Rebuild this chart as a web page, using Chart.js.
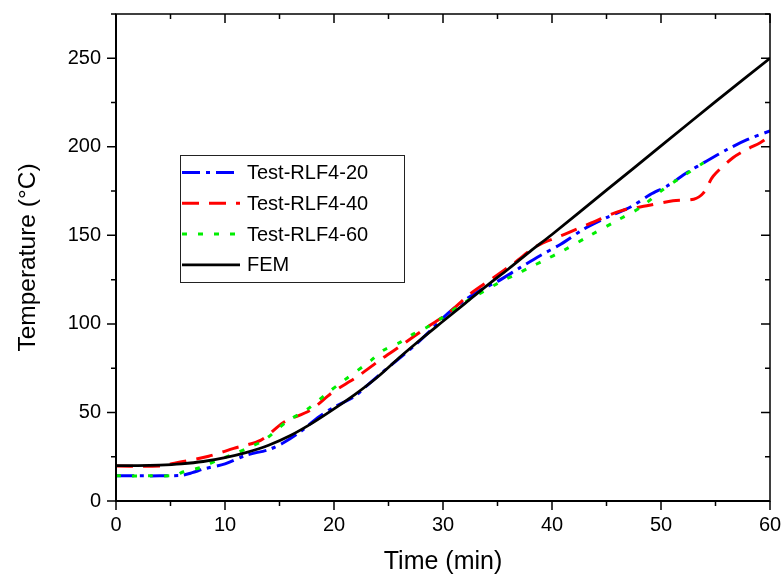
<!DOCTYPE html>
<html>
<head>
<meta charset="utf-8">
<script src="https://cdn.jsdelivr.net/npm/chart.js@4.4.0/dist/chart.umd.min.js"></script>
<style>
html, body { margin: 0; padding: 0; background: #fff; }
#wrap { width: 784px; height: 578px; }
</style>
</head>
<body>
<div id="wrap"><canvas id="chart" width="784" height="578"></canvas></div>
<script>
// time (min) and temperature (°C)
const time20 = [0, 2, 4, 6, 7, 8, 10, 12, 14, 15.4, 17, 18.5, 20, 21.8, 23, 24.3, 25.8, 27.6, 28.8, 30.4, 31.9, 33.4, 35, 37, 38.9, 40.8, 42.9, 45, 47.2, 49, 50.6, 52.4, 54.2, 56.1, 57.9, 60];
const temp20 = [14.2, 14.2, 14.2, 14.5, 16, 18, 21, 26, 29, 33, 39.5, 47, 53, 58.7, 65, 72, 79.5, 89, 96, 105.7, 113, 119, 124, 131.5, 138.5, 145, 153.5, 160, 166, 173, 178, 185.5, 192, 198.6, 204, 209];

const time40 = [0, 4, 5.9, 8.5, 10.8, 13.3, 15.4, 17.8, 19.9, 22.1, 24.3, 26.4, 28.5, 30.4, 32.5, 34.6, 36.6, 38.6, 41.2, 43.6, 46.3, 48.7, 51.1, 53, 53.9, 54.8, 56.6, 57.9, 59.1, 60];
const temp40 = [19.7, 19.8, 22, 25.3, 29.7, 34.4, 44.5, 51.2, 61.5, 70, 80, 88.8, 98, 105.7, 117, 126, 134.7, 144, 150.7, 157, 163.8, 166.7, 169.5, 170.4, 174, 183.5, 193.8, 198.6, 202.3, 206];

const time60 = [0, 3, 5.4, 6.2, 7.8, 9.3, 10.8, 12, 13.6, 15.7, 17.5, 19.3, 20.9, 23.4, 24.5, 26.1, 27.3, 28.5, 30, 31.3, 32.5, 35.2, 36.5, 38, 39.2, 41, 43.5, 46, 48.1, 50, 51.8, 53.9];
const temp60 = [14.2, 14.2, 14.5, 16.5, 19, 23, 26.5, 29.7, 34.4, 45, 51.5, 60.5, 68, 79.4, 85, 89.7, 94.4, 98, 103.8, 109.4, 114, 123.5, 127.4, 132, 135.7, 141.3, 150, 158.5, 165.7, 175, 182.6, 191];

const timeFem = [0, 2, 4, 6, 8, 10, 12, 14, 16, 18, 20, 22, 24, 26, 28, 30, 32, 34, 36, 38, 40, 45, 50, 55, 60];
const tempFem = [20, 20, 20.3, 21, 22.3, 24.5, 27.5, 31.5, 37, 44, 52, 60.5, 70, 81, 91.5, 101.5, 111.5, 121.5, 131, 141, 150.5, 175.5, 200.5, 225.5, 250];

const xTicks = [0, 10, 20, 30, 40, 50, 60];
const yTicks = [0, 50, 100, 150, 200, 250];

const FONT = 'Arial, "Liberation Sans", sans-serif';

const series = [
    { label: "Test-RLF4-20", t: time20, v: temp20, color: "#0000ff", dash: [18, 6, 4, 6], width: 3, order: 3 },
    { label: "Test-RLF4-40", t: time40, v: temp40, color: "#ff0000", dash: [17, 10], width: 3, order: 2 },
    { label: "Test-RLF4-60", t: time60, v: temp60, color: "#00ee00", dash: [5, 11], width: 3, order: 1 },
    { label: "FEM", t: timeFem, v: tempFem, color: "#000000", dash: [], width: 2.8, order: 0 },
];

// box, ticks on all four sides (major + minor)
const framePlugin = {
    id: "frame",
    afterDraw(chart) {
        const ctx = chart.ctx;
        const a = chart.chartArea;
        const xs = chart.scales.x;
        const ys = chart.scales.y;
        ctx.save();
        ctx.strokeStyle = "#000";
        ctx.lineWidth = 1.5;
        ctx.strokeRect(a.left, a.top, a.right - a.left, a.bottom - a.top);
        ctx.lineWidth = 2;
        ctx.beginPath();
        ctx.moveTo(a.left, a.top);
        ctx.lineTo(a.left, a.bottom);
        ctx.lineTo(a.right, a.bottom);
        ctx.stroke();

        ctx.lineWidth = 1.5;
        ctx.beginPath();
        for (let v = 0; v <= 60; v += 5) {
            const px = xs.getPixelForValue(v);
            const len = v % 10 === 0 ? 9 : 5;
            ctx.moveTo(px, a.bottom);
            ctx.lineTo(px, a.bottom + len);
            ctx.moveTo(px, a.top);
            ctx.lineTo(px, a.top + len);
        }
        for (let v = 0; v <= 275; v += 25) {
            const py = ys.getPixelForValue(v);
            const len = v % 50 === 0 ? 9 : 5;
            ctx.moveTo(a.left, py);
            ctx.lineTo(a.left - len, py);
            ctx.moveTo(a.right, py);
            ctx.lineTo(a.right - len, py);
        }
        ctx.stroke();
        ctx.restore();
    },
};

// boxed legend inside the plot, upper left
const legendPlugin = {
    id: "boxLegend",
    afterDraw(chart) {
        const ctx = chart.ctx;
        const box = { x: 180, y: 155, w: 224, h: 127 };
        ctx.save();
        ctx.fillStyle = "#fff";
        ctx.fillRect(box.x, box.y, box.w, box.h);
        ctx.strokeStyle = "#222";
        ctx.lineWidth = 1;
        ctx.strokeRect(box.x + 0.5, box.y + 0.5, box.w, box.h);
        ctx.font = "20px " + FONT;
        ctx.textBaseline = "middle";
        chart.data.datasets.forEach((ds, i) => {
            const y = 172.5 + i * 30.8;
            ctx.strokeStyle = ds.borderColor;
            ctx.lineWidth = ds.borderWidth;
            ctx.setLineDash(ds.borderDash);
            ctx.beginPath();
            ctx.moveTo(182, y);
            ctx.lineTo(240, y);
            ctx.stroke();
            ctx.setLineDash([]);
            ctx.fillStyle = "#000";
            ctx.fillText(ds.label, 247, y + 1);
        });
        ctx.restore();
    },
};

const datasets = series.map((s) => ({
    label: s.label,
    data: s.t.map((t, i) => ({ x: t, y: s.v[i] })),
    borderColor: s.color,
    borderWidth: s.width,
    borderDash: s.dash,
    pointRadius: 0,
    fill: false,
    tension: 0.3,
    order: s.order,
}));

new Chart(document.getElementById("chart"), {
    type: "line",
    data: { datasets: datasets },
    options: {
        responsive: false,
        animation: false,
        layout: { padding: { top: 14, right: 14, left: 0, bottom: 0 } },
        plugins: {
            legend: { display: false },
            tooltip: { enabled: false },
        },
        scales: {
            x: {
                type: "linear",
                min: 0,
                max: 60,
                afterBuildTicks: (scale) => {
                    scale.ticks = xTicks.map((v) => ({ value: v }));
                },
                afterFit: (scale) => {
                    scale.height = 77;
                    scale.paddingLeft = 0;
                    scale.paddingRight = 0;
                },
                grid: { display: false, drawTicks: false },
                border: { display: false },
                ticks: { color: "#000", font: { family: FONT, size: 20 }, padding: 12, maxRotation: 0 },
                title: {
                    display: true,
                    text: "Time (min)",
                    color: "#000",
                    font: { family: FONT, size: 25 },
                    padding: { top: 0, bottom: 1 },
                },
            },
            y: {
                type: "linear",
                min: 0,
                max: 275,
                afterBuildTicks: (scale) => {
                    scale.ticks = yTicks.map((v) => ({ value: v }));
                },
                afterFit: (scale) => {
                    scale.width = 116;
                    scale.paddingTop = 0;
                    scale.paddingBottom = 0;
                },
                grid: { display: false, drawTicks: false },
                border: { display: false },
                ticks: { color: "#000", font: { family: FONT, size: 20 }, padding: 15 },
                title: {
                    display: true,
                    text: "Temperature (°C)",
                    color: "#000",
                    font: { family: FONT, size: 24.5 },
                    padding: { top: 14, bottom: 0 },
                },
            },
        },
    },
    plugins: [framePlugin, legendPlugin],
});
</script>
</body>
</html>
